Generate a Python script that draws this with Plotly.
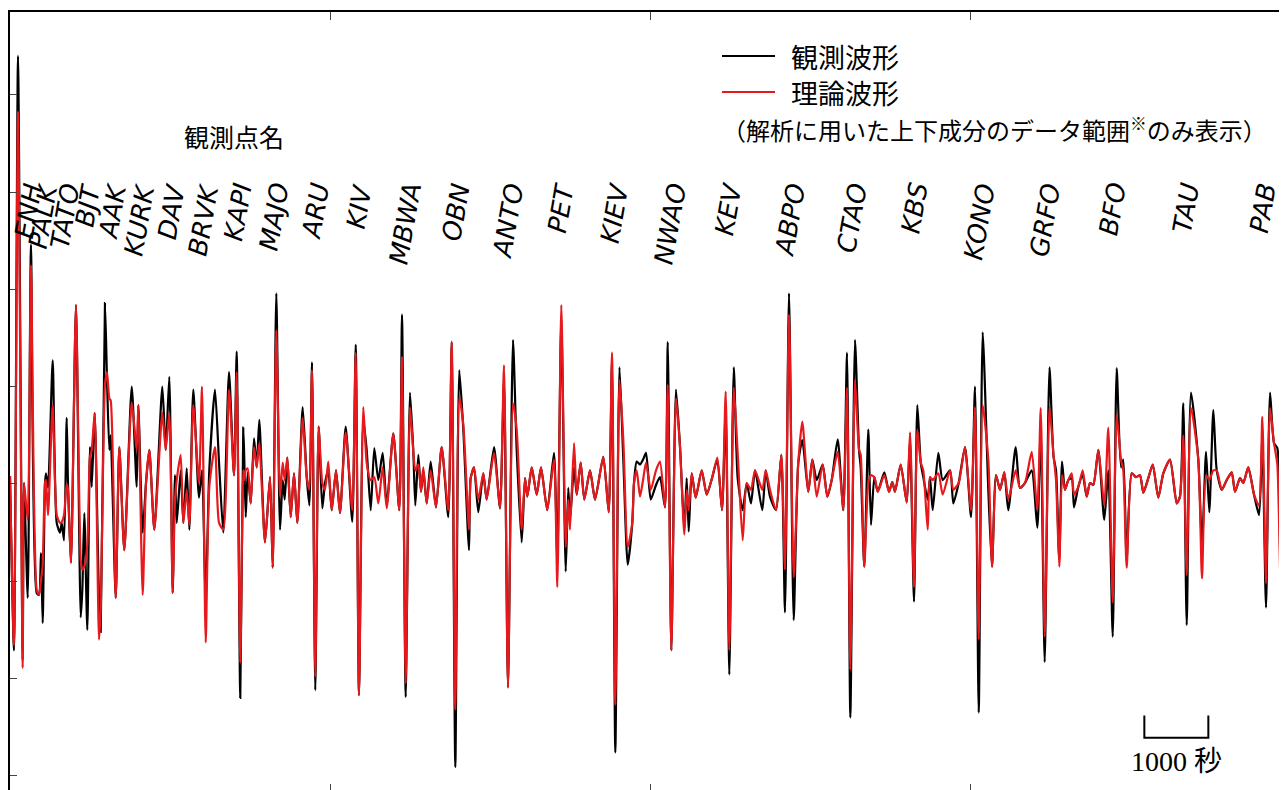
import plotly.graph_objects as go

# ---- data (time in seconds along the concatenated record, amplitude in arbitrary units) ----
time_s = [
    0, 62, 125, 198, 219, 277, 328, 417, 453, 484,
    511, 547, 562, 594, 667, 730, 781, 808, 844, 886,
    906, 953, 1031, 1105, 1130, 1161, 1208, 1250, 1277, 1323,
    1391, 1417, 1484, 1516, 1552, 1573, 1652, 1708, 1786, 1902,
    1980, 2005, 2073, 2125, 2177, 2255, 2380, 2433, 2489, 2542,
    2578, 2605, 2667, 2708, 2761, 2802, 2864, 2953, 3000, 3058,
    3114, 3203, 3266, 3333, 3422, 3500, 3542, 3598, 3645, 3661,
    3683, 3714, 3761, 3813, 3855, 3895, 3984, 4063, 4105, 4161,
    4219, 4261, 4292, 4333, 4386, 4438, 4489, 4573, 4636, 4677,
    4719, 4770, 4823, 4880, 4922, 4973, 5027, 5094, 5156, 5245,
    5348, 5402, 5453, 5520, 5573, 5636, 5692, 5755, 5823, 5886,
    5989, 6083, 6125, 6183, 6250, 6302, 6333, 6380, 6422, 6458,
    6511, 6573, 6656, 6745, 6848, 6902, 6958, 7020, 7083, 7172,
    7198, 7250, 7317, 7395, 7448, 7563, 7656, 7719, 7781, 7859,
    7917, 7995, 8047, 8083, 8152, 8230, 8297, 8395, 8500, 8552,
    8614, 8683, 8723, 8750, 8813, 8855, 8917, 8973, 9063, 9141,
    9270, 9355, 9406, 9458, 9523, 9583, 9652, 9723, 9750, 9792,
    9844, 9891, 9938, 10011, 10094, 10156, 10234, 10277, 10333, 10406,
    10469, 10536, 10573, 10605, 10652, 10714, 10808, 10886, 10969, 11052,
    11125, 11183, 11239, 11309, 11370, 11448, 11511, 11578, 11641, 11755,
    11808, 11875, 11969, 12052, 12109, 12172, 12245, 12317, 12380, 12473,
    12536, 12605, 12698, 12770, 12839, 12933, 13020, 13078, 13130, 13203,
    13266, 13292, 13348, 13411, 13453, 13505, 13558, 13661, 13734, 13786,
    13828, 13917, 14011, 14063, 14125, 14177, 14230, 14270, 14339, 14375,
    14417, 14505, 14573, 14688, 14739, 14823, 14922, 15016, 15078, 15136,
    15198, 15286, 15344, 15406, 15469, 15536, 15598, 15714, 15781, 15859,
    15964, 16052, 16105, 16167, 16242, 16305, 16344, 16395, 16438, 16484,
    16536, 16589, 16625, 16692, 16761, 16823, 16875, 16927, 17005, 17098,
    17161, 17230, 17292, 17359, 17395, 17448, 17527, 17594, 17656, 17708,
    17786, 17855, 17942, 18020, 18125, 18230, 18281, 18333, 18386, 18453,
    18567, 18625, 18688, 18739, 18802, 18855, 18933, 19011, 19089, 19141,
    19219, 19270, 19348, 19438, 19516, 19567, 19625, 19688, 19750, 19802,
    19855, 19922, 19953,
]

observed = [
    8, -171, 440, -181, 1, -117, 246, -112, -114, -71,
    -143, 1, 11, -4, 127, -40, -50, -40, -58, 68,
    1, -81, 184, -137, -109, -30, -150, 38, -3, 73,
    -119, -152, 186, 107, 35, 50, -117, 38, -68, 100,
    -3, 81, -50, 1, 35, -47, 100, 35, 110, -112,
    9, -40, 14, -40, 16, -47, 97, -14, 14, -119,
    14, 97, 22, -50, 115, 9, 136, -220, 58, 25,
    -34, 12, -20, 47, 17, 66, -60, 7, -86, 196,
    -47, 4, -16, 27, -34, 11, -40, 79, 7, -22,
    125, -212, 59, -25, 1, 14, -27, 14, -30, 59,
    -39, 143, -217, 66, 35, -27, 37, 4, 32, -22,
    52, -27, 174, -219, 94, 33, -22, 30, -8, 14,
    -20, 23, -24, 38, -34, 146, -291, 117, 56, -68,
    6, 17, -29, 11, -16, 38, -25, 107, -209, 148,
    35, -60, 6, -13, 17, -11, 17, -27, 32, -78,
    169, -90, -4, -37, 17, -11, 22, -16, 14, -16,
    28, -29, 127, -276, 120, 25, -83, -40, 1, 23,
    20, 25, 32, -16, -1, 7, -24, 146, -171, 97,
    38, -47, 6, -49, 11, -14, 14, -11, 6, 25,
    -27, 76, -196, 120, 6, -27, 1, -20, 14, -27,
    14, -13, -27, 30, -132, 196, -140, 22, 45, -8,
    25, 4, 20, -13, 4, 46, -27, 135, -240, 148,
    35, 17, -85, 56, -42, 7, -8, 12, -8, 2,
    -8, 20, -19, 45, -121, 81, 22, 7, -16, 7,
    -27, 32, 4, 14, -20, 1, 38, -34, 100, -235,
    156, -6, -85, 9, -6, 12, -27, 38, -4, 1,
    14, -45, 56, -183, 120, 28, 14, -78, 23, -6,
    4, 6, -24, -3, 9, -13, 1, -1, 35, -37,
    14, -157, 119, 17, 25, -78, 11, 7, 9, -9,
    6, 20, -14, 11, 25, -20, -13, 83, -145, 94,
    25, -63, 33, -29, 76, 14, -6, 4, 12, -8,
    6, 1, 17, -11, -32, 45, -127, 94, 42, 37,
    -104, 25, 14,
]

synthetic = [
    8, -166, 383, -189, 1, -37, 225, -109, -114, -99,
    -83, 1, 4, -32, 81, -32, -40, -39, -32, 0,
    -6, -81, 184, -78, -88, -85, -63, 28, 35, 73,
    -160, -130, 102, 115, 88, 86, -117, 38, -68, 84,
    35, 81, -114, 1, 35, -47, 73, 35, 73, -112,
    -16, 4, 30, -40, -6, -42, 81, 1, 100, -163,
    -3, 38, -40, -47, 97, 9, 115, -184, 14, 4,
    14, 16, -20, 38, 17, 42, -60, 7, -86, 158,
    -13, 22, 4, 27, -34, 11, -40, 68, 7, -6,
    117, -198, 59, 1, -6, 23, -27, 14, -30, 53,
    -27, 135, -217, 79, 22, 4, 7, -20, 17, -25,
    52, -27, 131, -205, 79, 33, 14, 20, -8, 17,
    -20, 14, -24, 38, -27, 146, -232, 89, 61, -47,
    6, 17, -16, 11, -16, 32, -25, 122, -209, 83,
    56, -47, 6, -13, 17, -11, 17, -27, 25, -106,
    184, -65, -16, -47, 42, -11, 22, -16, 14, -16,
    28, -29, 135, -227, 107, 45, -65, -40, 1, 14,
    -13, 4, 22, -6, 14, 23, -24, 102, -171, 88,
    38, -52, -6, -27, 11, -14, 14, -11, 6, 27,
    -27, 95, -171, 99, 32, -58, 1, -6, 14, -6,
    14, -6, -27, 30, -88, 174, -96, 22, 64, -8,
    25, -13, 20, -13, 4, 33, -27, 99, -191, 107,
    35, 30, -85, 1, 9, 7, -8, 9, -8, 2,
    -8, 20, -19, 53, -106, 56, 22, 14, -47, 7,
    4, 11, -11, 14, -6, 1, 38, -27, 79, -160,
    81, 25, -85, 9, -6, 12, -16, 14, -4, 1,
    33, -27, 78, -157, 79, 30, 4, -85, 9, -6,
    4, 11, -11, -3, 14, -13, 1, -1, 35, -22,
    58, -122, 71, 25, 14, -86, 11, 7, 9, -9,
    6, 20, -14, 11, 25, -20, -13, 50, -94, 78,
    25, -97, 9, 4, 14, 14, -6, 4, 12, -8,
    6, 1, 17, -11, -22, 69, -102, 78, 42, 20,
    -104, 25, 14,
]

stations = ["ENH", "PALK", "TATO", "BJT", "AAK", "KURK", "DAV", "BRVK", "KAPI",
            "MAJO", "ARU", "KIV", "MBWA", "OBN", "ANTO", "PET", "KIEV", "NWAO",
            "KEV", "ABPO", "CTAO", "KBS", "KONO", "GRFO", "BFO", "TAU", "PAB"]
station_t = [281, 516, 859, 1219, 1594, 2031, 2516, 3031, 3563,
             4125, 4766, 5453, 6172, 6969, 7781, 8609, 9453, 10313,
             11219, 12188, 13156, 14125, 15156, 16172, 17219, 18375, 19578]

x_ticks = [5000, 10000, 15000]
y_ticks = [-300, -200, -100, 0, 100, 200, 300, 400]
scale_start = 17724
scale_len = 1000

# ---- figure geometry (page body has an 8 px margin) ----
PAGE_OFF = 8
W, H = 1279, 782
ML, MR, MT, MB = 2, 0, 4, 0
PW, PH = W - ML - MR, H - MT - MB


def px(xp):
    return (xp - PAGE_OFF - ML) / PW


def py(yp):
    return 1 - (yp - PAGE_OFF - MT) / PH


RED = "#e8191c"
fig = go.Figure()
fig.add_trace(go.Scatter(
    x=time_s, y=observed, mode="lines", name="観測波形",
    line=dict(color="black", width=2.2, shape="spline", smoothing=0.6),
    hoverinfo="skip"))
fig.add_trace(go.Scatter(
    x=time_s, y=synthetic, mode="lines", name="理論波形",
    line=dict(color=RED, width=2.2, shape="spline", smoothing=0.6),
    hoverinfo="skip"))
# invisible trace for bottom tick axis
fig.add_trace(go.Scatter(x=[time_s[0]], y=[0], xaxis="x2", mode="markers",
                         marker=dict(opacity=0), hoverinfo="skip", showlegend=False))

annotations = []
for name, t in zip(stations, station_t):
    annotations.append(dict(
        x=t, y=314, xref="x", yref="y", xanchor="center", yanchor="top",
        text=f"<i>{name}</i>", showarrow=False, textangle=-80,
        font=dict(family="DejaVu Sans", size=26, color="black")))

cjk = "Noto Sans CJK JP"
annotations += [
    dict(x=px(234), y=py(136), xref="paper", yref="paper", text="観測点名",
         showarrow=False, xanchor="center", yanchor="middle",
         font=dict(family=cjk, size=25, color="black")),
    dict(x=px(789), y=py(56), xref="paper", yref="paper", text="観測波形",
         showarrow=False, xanchor="left", yanchor="middle",
         font=dict(family=cjk, size=27, color="black")),
    dict(x=px(789), y=py(92), xref="paper", yref="paper", text="理論波形",
         showarrow=False, xanchor="left", yanchor="middle",
         font=dict(family=cjk, size=27, color="black")),
    dict(x=px(994), y=py(129), xref="paper", yref="paper",
         text="（解析に用いた上下成分のデータ範囲<sup>※</sup>のみ表示）",
         showarrow=False, xanchor="center", yanchor="middle",
         font=dict(family=cjk, size=24, color="black")),
    dict(x=scale_start + scale_len / 2, y=-285, xref="x", yref="y", text="1000 秒",
         showarrow=False, xanchor="center", yanchor="middle",
         font=dict(family="Liberation Serif, Noto Sans CJK JP", size=28, color="black")),
]

shapes = [
    dict(type="line", xref="paper", yref="paper", x0=px(722), x1=px(775),
         y0=py(56), y1=py(56), line=dict(color="black", width=2)),
    dict(type="line", xref="paper", yref="paper", x0=px(722), x1=px(775),
         y0=py(92), y1=py(92), line=dict(color=RED, width=2)),
    dict(type="path", xref="x", yref="y",
         path=f"M {scale_start},-238 L {scale_start},-261 L {scale_start + scale_len},-261 L {scale_start + scale_len},-238",
         line=dict(color="black", width=2)),
]

fig.update_layout(
    width=W, height=H, margin=dict(l=ML, r=MR, t=MT, b=MB, autoexpand=False),
    paper_bgcolor="white", plot_bgcolor="white", showlegend=False,
    xaxis=dict(range=[0, 19953], side="top", showline=True, linecolor="black",
               linewidth=2, ticks="inside", ticklen=8, tickwidth=1, tickcolor="#444",
               tickvals=x_ticks, showticklabels=False, showgrid=False, zeroline=False),
    xaxis2=dict(range=[0, 19953], overlaying="x", side="bottom", anchor="y",
                showline=False, ticks="inside", ticklen=6, tickwidth=1, tickcolor="#444",
                tickvals=x_ticks, showticklabels=False, showgrid=False, zeroline=False),
    yaxis=dict(range=[-314.6, 485.2], showline=True, linecolor="black", linewidth=2,
               ticks="inside", ticklen=7, tickwidth=1, tickcolor="#444",
               tickvals=y_ticks, showticklabels=False, showgrid=False, zeroline=False),
    annotations=annotations, shapes=shapes,
)

fig.write_html("out.html")
